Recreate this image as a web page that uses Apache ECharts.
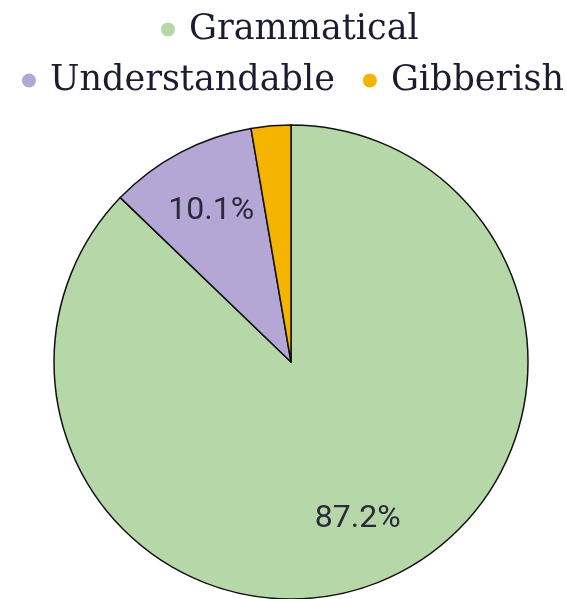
<!DOCTYPE html>
<html><head><meta charset="utf-8">
<style>html,body{margin:0;padding:0;background:#fff}#c{width:567px;height:599px}</style>
<script src="https://cdn.jsdelivr.net/npm/echarts@6/dist/echarts.min.js"></script>
</head><body><div id="c"></div>
<script>
const categories = ['Grammatical', 'Understandable', 'Gibberish'];
const values = [87.2, 10.1, 2.7];
const colors = ['#b6d7a8', '#b4a7d6', '#f4b400'];
const showLabel = [true, true, false];

const chart = echarts.init(document.getElementById('c'));
const legendText = { fontFamily: 'DejaVu Serif', fontSize: 35, color: '#1c1c30', padding: [0, 0, 0, 9] };
const legendCommon = { icon: 'circle', itemWidth: 14, itemHeight: 14, itemGap: 28, width: 560, padding: 0,
  itemStyle: { borderWidth: 0 }, textStyle: legendText };
const data = categories.map((n, i) => ({ name: n, value: values[i], itemStyle: { color: colors[i] } }));
chart.setOption({
  animation: false,
  legend: [
    Object.assign({ data: ['Grammatical'], top: 12, left: 161 }, legendCommon),
    Object.assign({ data: ['Understandable', 'Gibberish'], top: 63, left: 22 }, legendCommon)
  ],
  series: [
    {
      type: 'pie', center: [291, 362], radius: [0, 237], startAngle: 90, clockwise: true,
      label: { show: false }, labelLine: { show: false },
      itemStyle: { borderColor: '#111', borderWidth: 1.5 },
      emphasis: { disabled: true },
      data: data
    },
    {
      type: 'pie', center: [291, 362], radius: [98, 237], startAngle: 90, clockwise: true,
      silent: true, legendHoverLink: false,
      itemStyle: { color: 'rgba(0,0,0,0)', borderWidth: 0 },
      labelLine: { show: false },
      label: {
        position: 'inside', fontFamily: 'Roboto', fontSize: 32, color: '#2a2a3c',
        formatter: p => showLabel[p.dataIndex] ? p.value.toFixed(1) + '%' : ''
      },
      data: categories.map((n, i) => ({ name: n + ' ', value: values[i] }))
    }
  ]
});
</script></body></html>
